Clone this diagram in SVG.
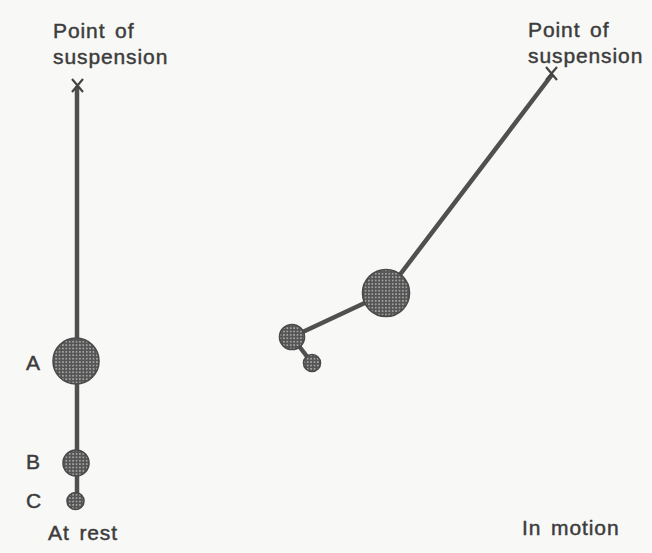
<svg xmlns="http://www.w3.org/2000/svg" width="652" height="553" viewBox="0 0 652 553">
  <defs>
    <!-- stippled shading for the pendulum bobs -->
    <pattern id="dots" width="3.4" height="3.4" patternUnits="userSpaceOnUse">
      <rect width="3.4" height="3.4" fill="#555"/>
      <circle cx="1.7" cy="1.7" r="0.8" fill="#c4c4c4"/>
    </pattern>
    <style>
      .rod { stroke: #505050; stroke-width: 4.5; stroke-linecap: round; fill: none; }
      .cross { stroke: #444; stroke-width: 2.2; fill: none; }
      .bob { fill: url(#dots); stroke: #4a4a4a; stroke-width: 1.6; }
      .lbl { font-family: "Liberation Sans", Arial, sans-serif; font-size: 21px; fill: #3c3c3c; stroke: #3c3c3c; stroke-width: 0.45; letter-spacing: 0.9px; word-spacing: 3px; }
    </style>
  </defs>
  <rect width="652" height="553" fill="#f8f8f6"/>

  <g id="connectors">
    <line class="rod" x1="77" y1="88" x2="77" y2="500"/>
    <line class="rod" x1="551" y1="76" x2="386" y2="293"/>
    <line class="rod" x1="386" y1="293" x2="292" y2="337"/>
    <line class="rod" x1="292" y1="337" x2="312" y2="363"/>
  </g>

  <g id="rest-pivot">
    <path class="cross" d="M72 79 L83 92 M83 79 L72 92"/>
    <text class="lbl" x="53" y="38">Point of</text>
    <text class="lbl" x="53" y="64">suspension</text>
  </g>
  <g id="rest-a">
    <circle class="bob" cx="76" cy="361" r="23"/>
    <text class="lbl" x="26" y="370">A</text>
  </g>
  <g id="rest-b">
    <circle class="bob" cx="76" cy="463" r="13"/>
    <text class="lbl" x="26" y="469">B</text>
  </g>
  <g id="rest-c">
    <circle class="bob" cx="75.5" cy="501" r="8.5"/>
    <text class="lbl" x="26" y="508">C</text>
  </g>
  <g id="rest-caption">
    <text class="lbl" x="48" y="540">At rest</text>
  </g>

  <g id="motion-pivot">
    <path class="cross" d="M546 67 L557 80 M557 67 L546 80"/>
    <text class="lbl" x="528" y="37">Point of</text>
    <text class="lbl" x="528" y="63">suspension</text>
  </g>
  <g id="motion-a">
    <circle class="bob" cx="386" cy="293" r="23.5"/>
  </g>
  <g id="motion-b">
    <circle class="bob" cx="292" cy="337" r="12.5"/>
  </g>
  <g id="motion-c">
    <circle class="bob" cx="312" cy="363" r="8.5"/>
  </g>
  <g id="motion-caption">
    <text class="lbl" x="522" y="535">In motion</text>
  </g>
</svg>
